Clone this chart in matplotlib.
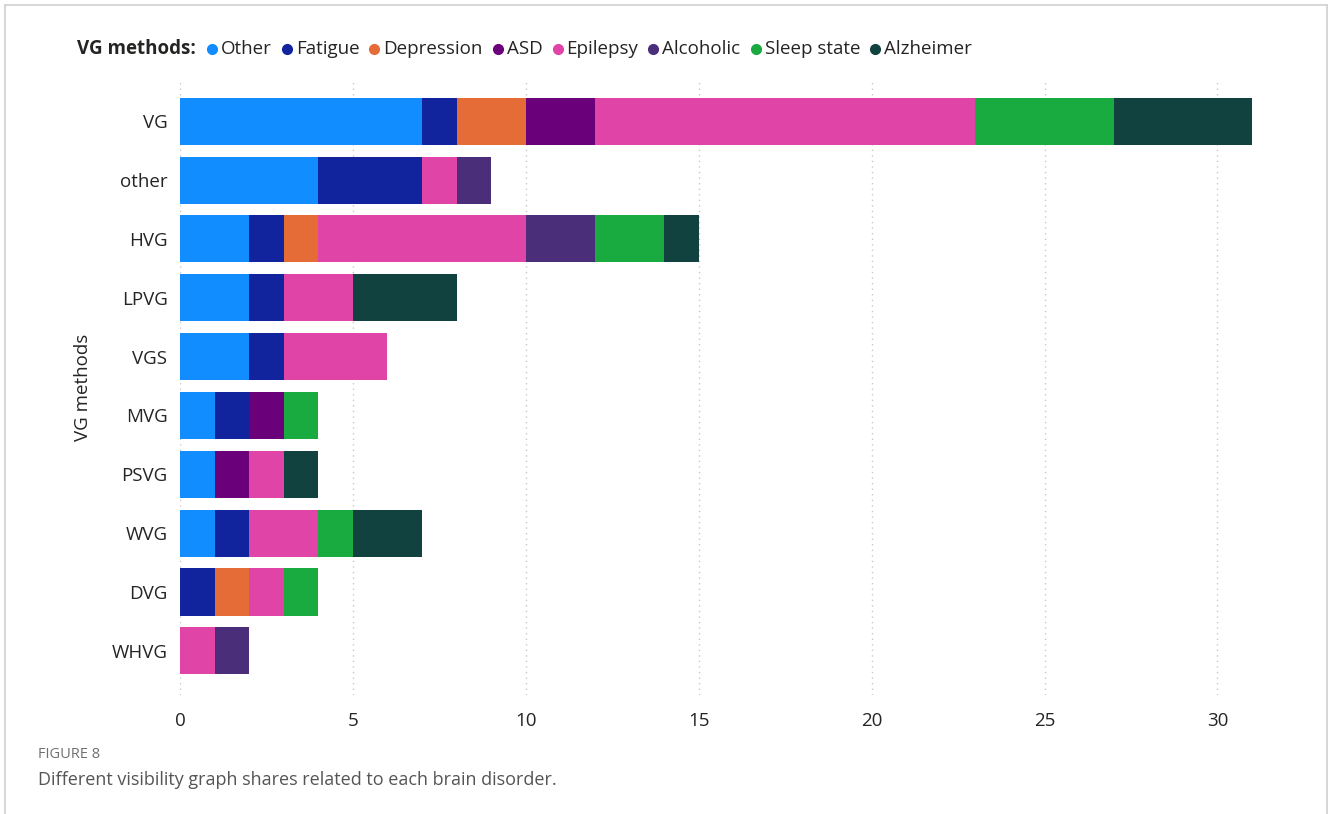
import numpy as np
import matplotlib
matplotlib.use('Agg')
from matplotlib import pyplot as plt
from matplotlib.lines import Line2D

# rows (top to bottom) and stacked segment counts per disorder
METHODS = ['VG', 'other', 'HVG', 'LPVG', 'VGS', 'MVG', 'PSVG', 'WVG', 'DVG', 'WHVG']
DISORDERS = ['Other', 'Fatigue', 'Depression', 'ASD', 'Epilepsy', 'Alcoholic', 'Sleep state', 'Alzheimer']
COLORS = ['#118DFF', '#12239E', '#E66C37', '#6B007B', '#E044A7', '#4B2E7A', '#1AAB40', '#11423F']

other_vals      = [7, 4, 2, 2, 2, 1, 1, 1, 0, 0]
fatigue_vals    = [1, 3, 1, 1, 1, 1, 0, 1, 1, 0]
depression_vals = [2, 0, 1, 0, 0, 0, 0, 0, 1, 0]
asd_vals        = [2, 0, 0, 0, 0, 1, 1, 0, 0, 0]
epilepsy_vals   = [11, 1, 6, 2, 3, 0, 1, 2, 1, 1]
alcoholic_vals  = [0, 1, 2, 0, 0, 0, 0, 0, 0, 1]
sleep_vals      = [4, 0, 2, 0, 0, 1, 0, 1, 1, 0]
alzheimer_vals  = [4, 0, 1, 3, 0, 0, 1, 2, 0, 0]

series = [other_vals, fatigue_vals, depression_vals, asd_vals,
          epilepsy_vals, alcoholic_vals, sleep_vals, alzheimer_vals]

plt.rcParams['font.family'] = ['Open Sans', 'DejaVu Sans']

W, H = 1330, 814
fig = plt.figure(figsize=(W / 100, H / 100), dpi=100)
ax = fig.add_axes([180 / W, 1 - 695 / H, (1252 - 180) / W, (695 - 80) / H])

y = np.arange(len(METHODS))
left = np.zeros(len(METHODS))
for name, vals, col in zip(DISORDERS, series, COLORS):
    vals = np.array(vals, dtype=float)
    ax.barh(y, vals, left=left, height=0.8, color=col, label=name, zorder=3)
    left += vals

ax.set_xlim(0, 31)
ax.set_ylim(9.75, -0.7)
ax.set_yticks(y)
ax.set_yticklabels(METHODS)
ax.set_xticks([0, 5, 10, 15, 20, 25, 30])
ax.tick_params(axis='both', length=0, labelsize=13.5, colors='#252423', pad=9)
ax.tick_params(axis='x', pad=12)
ax.grid(axis='x', linestyle=(0, (1, 3)), color='#C8C8C8', linewidth=1, zorder=0)
for s in ax.spines.values():
    s.set_visible(False)
ax.set_ylabel('VG methods', fontsize=13.5, color='#252423', labelpad=14)

# legend drawn by hand so it sits on one line after the bold title
fig.canvas.draw()
r = fig.canvas.get_renderer()
ly = 1 - 49 / H
t = fig.text(77 / W, ly, 'VG methods:', fontsize=13.5, fontweight='bold', color='#252423', va='center')
x = t.get_window_extent(r).x1 + 16
for name, col in zip(DISORDERS, COLORS):
    fig.add_artist(Line2D([x / W], [ly], marker='o', markersize=7, color=col, linestyle='none'))
    lt = fig.text((x + 9) / W, ly, name, fontsize=13.5, color='#252423', va='center')
    x = lt.get_window_extent(r).x1 + 15

fig.text(38 / W, 1 - 755 / H, 'FIGURE 8', fontsize=10.5, color='#707070', va='center')
fig.text(38 / W, 1 - 780 / H, 'Different visibility graph shares related to each brain disorder.',
         fontsize=13, color='#555555', va='center')

# light frame on top, left and right
fc = '#D0D0D0'
fig.add_artist(Line2D([5 / W, 1327 / W], [1 - 5 / H, 1 - 5 / H], color=fc, lw=1.2))
fig.add_artist(Line2D([5 / W, 5 / W], [0, 1 - 5 / H], color=fc, lw=1.2))
fig.add_artist(Line2D([1327 / W, 1327 / W], [0, 1 - 5 / H], color=fc, lw=1.2))

fig.savefig('out.png', dpi=100)
